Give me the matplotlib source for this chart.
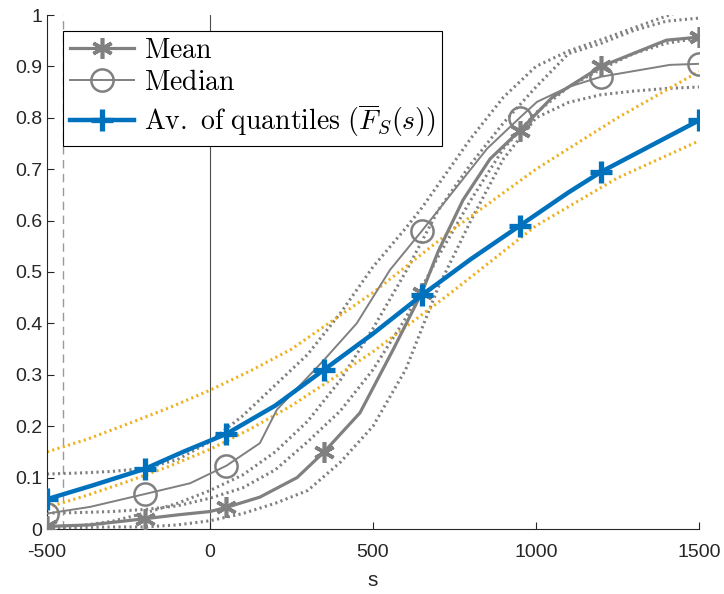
import matplotlib
matplotlib.use("Agg")
import matplotlib.pyplot as plt

plt.rcParams["font.family"] = ["Liberation Sans", "DejaVu Sans"]
plt.rcParams["mathtext.fontset"] = "cm"

# marker positions shared by mean / median / average curves
mark_x = [-500, -200, 50, 350, 650, 950, 1200, 1500]

mean_x = [-500, -368, -200, -92, 0, 50, 153, 267, 350, 460, 561, 650, 700, 776, 859, 950, 1050, 1200, 1400, 1500]
mean_y = [0.005, 0.008, 0.02, 0.028, 0.034, 0.042, 0.062, 0.10, 0.15, 0.226, 0.348, 0.46, 0.54, 0.64, 0.72, 0.775, 0.84, 0.90, 0.951, 0.957]

med_x = [-500, -368, -200, -61, 50, 153, 205, 347, 450, 552, 650, 750, 850, 950, 1003, 1100, 1200, 1411, 1500]
med_y = [0.03, 0.043, 0.068, 0.089, 0.123, 0.167, 0.232, 0.327, 0.40, 0.504, 0.58, 0.66, 0.74, 0.80, 0.831, 0.86, 0.88, 0.903, 0.905]

avq_x = [-500, -359, -200, -83, 50, 200, 350, 500, 650, 800, 950, 1100, 1200, 1350, 1500]
avq_y = [0.058, 0.085, 0.117, 0.15, 0.185, 0.24, 0.31, 0.38, 0.455, 0.525, 0.59, 0.655, 0.695, 0.745, 0.795]

band_x = [-500, -375, -250, -125, 0, 125, 250, 375, 500, 750, 1000, 1250, 1500]
avq_hi = [0.15, 0.175, 0.205, 0.236, 0.27, 0.308, 0.35, 0.405, 0.46, 0.585, 0.70, 0.80, 0.89]
avq_lo = [0.042, 0.066, 0.093, 0.122, 0.155, 0.195, 0.24, 0.292, 0.345, 0.465, 0.59, 0.683, 0.755]

q_x = [-500, -400, -300, -200, -100, 0, 100, 200, 300, 400, 500, 600, 650, 700, 800, 900, 1000, 1100, 1200, 1300, 1400, 1500]
q1 = [0.107, 0.109, 0.112, 0.118, 0.135, 0.17, 0.22, 0.28, 0.34, 0.42, 0.51, 0.585, 0.625, 0.67, 0.76, 0.84, 0.90, 0.93, 0.952, 0.975, 0.998, 1.02]
q2 = [0.004, 0.006, 0.015, 0.031, 0.05, 0.075, 0.105, 0.15, 0.21, 0.29, 0.39, 0.50, 0.56, 0.62, 0.71, 0.79, 0.86, 0.925, 0.945, 0.97, 0.988, 0.994]
q3 = [0.031, 0.032, 0.034, 0.038, 0.045, 0.06, 0.08, 0.115, 0.17, 0.23, 0.31, 0.41, 0.47, 0.53, 0.64, 0.74, 0.81, 0.86, 0.895, 0.925, 0.945, 0.955]
q4 = [0.003, 0.003, 0.004, 0.004, 0.008, 0.016, 0.03, 0.05, 0.075, 0.13, 0.2, 0.31, 0.39, 0.47, 0.60, 0.72, 0.80, 0.83, 0.845, 0.852, 0.857, 0.86]

x_ticks = [-500, 0, 500, 1000, 1500]
y_ticks = [0, 0.1, 0.2, 0.3, 0.4, 0.5, 0.6, 0.7, 0.8, 0.9, 1]
y_ticklabels = ["0", "0.1", "0.2", "0.3", "0.4", "0.5", "0.6", "0.7", "0.8", "0.9", "1"]

GRAY = (0.5, 0.5, 0.5)
BLUE = (0, 0.447, 0.741)
YELLOW = (0.929, 0.694, 0.125)
DOT = (0, (0.7, 1.1))


def marks(xs):
    return [i for i, v in enumerate(xs) if v in mark_x]


fig = plt.figure(figsize=(7.24, 5.94), dpi=100)
ax = fig.add_axes([47 / 724, 65 / 594, 652 / 724, 514 / 594])

ax.axvline(0, color=(0.3, 0.3, 0.3), lw=0.8, zorder=1)
ax.axvline(-450, color=(0.6, 0.6, 0.6), lw=1.0, ls=(0, (6, 4)), zorder=1)

for q in (q1, q2, q3, q4):
    ax.plot(q_x, q, color=GRAY, lw=2.2, ls=DOT, zorder=2)
ax.plot(band_x, avq_hi, color=YELLOW, lw=2.2, ls=DOT, zorder=2)
ax.plot(band_x, avq_lo, color=YELLOW, lw=2.2, ls=DOT, zorder=2)

ax.plot(mean_x, mean_y, color=GRAY, lw=2.3, marker=(6, 2, 0), ms=15, mew=2.6,
        markevery=marks(mean_x), label=r"$\mathrm{Mean}$", zorder=3)
ax.plot(med_x, med_y, color=GRAY, lw=1.4, marker="o", ms=16, mew=1.8, mfc="none",
        markevery=marks(med_x), label=r"$\mathrm{Median}$", zorder=3)
ax.plot(avq_x, avq_y, color=BLUE, lw=3.2, marker="+", ms=16, mew=3.8,
        markevery=marks(avq_x),
        label=r"$\mathrm{Av.\ of\ quantiles}\ (\overline{F}_S(s))$", zorder=4)

ax.set_xlim(-500, 1500)
ax.set_ylim(0, 1)
ax.set_xticks(x_ticks)
ax.set_xticklabels([str(v) for v in x_ticks])
ax.set_yticks(y_ticks)
ax.set_yticklabels(y_ticklabels)
ax.tick_params(direction="in", length=5, width=0.8, colors=(0.15, 0.15, 0.15),
               labelsize=14)
ax.tick_params(axis="x", pad=11)
for side in ("top", "right"):
    ax.spines[side].set_visible(False)
for side in ("left", "bottom"):
    ax.spines[side].set_color((0.15, 0.15, 0.15))
    ax.spines[side].set_linewidth(0.8)
ax.set_xlabel("s", fontsize=15, color=(0.15, 0.15, 0.15), labelpad=7)

leg = ax.legend(loc="upper left", bbox_to_anchor=(63 / 724, 1 - 31 / 594),
                bbox_transform=fig.transFigure, borderaxespad=0, fancybox=False,
                framealpha=1, edgecolor="black", fontsize=20, handlelength=2.3,
                handletextpad=0.35, borderpad=0.25, labelspacing=0.22)
leg.get_frame().set_linewidth(0.8)

plt.savefig("out.png", dpi=100)
plt.close()
